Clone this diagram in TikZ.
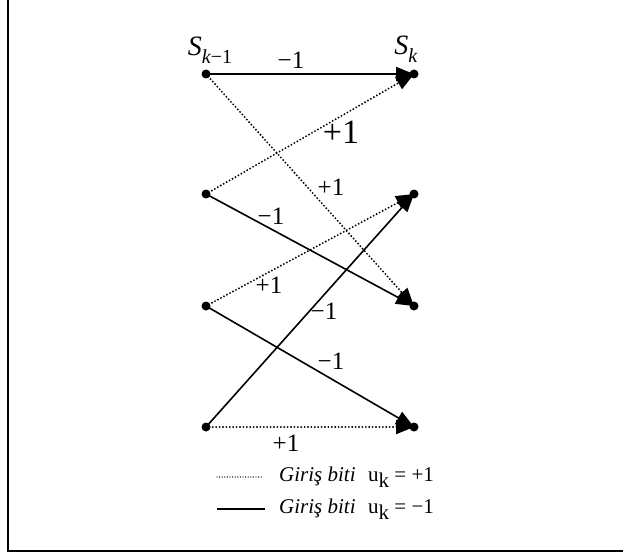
\documentclass[tikz,border=0pt]{standalone}
\usepackage{fontspec}
\setmainfont{Liberation Serif}
\usetikzlibrary{arrows.meta}
\tikzset{
  dot/.style={circle,fill=black,inner sep=0pt,minimum size=9pt},
  solidedge/.style={line width=1.6pt,-{Triangle[length=18pt,width=14pt]}},
  dotedge/.style={line width=2.1pt,line cap=round,dash pattern=on 0pt off 3.4pt,-{Triangle[length=18pt,width=14pt]}},
  lbl/.style={inner sep=0pt,font=\fontsize{25}{28}\selectfont},
  biglbl/.style={inner sep=0pt,font=\fontsize{34}{38}\selectfont},
  legtext/.style={inner sep=0pt,anchor=base west,font=\fontsize{21}{24}\selectfont}
}
\begin{document}
\begin{tikzpicture}[x=1pt,y=-1pt]
\useasboundingbox (0,0) rectangle (623,559);
\draw[line width=2pt] (8,-2) -- (8,551) -- (625,551);
% states
\node[dot] (a1) at (206,74) {};
\node[dot] (a2) at (206,194) {};
\node[dot] (a3) at (206,306) {};
\node[dot] (a4) at (206,427) {};
\node[dot] (b1) at (414,74) {};
\node[dot] (b2) at (414,194) {};
\node[dot] (b3) at (414,306) {};
\node[dot] (b4) at (414,427) {};
% edges
\draw[solidedge] (a1.center) -- (b1.center);
\draw[dotedge] (a1.center) -- (b3.center);
\draw[dotedge] (a2.center) -- (b1.center);
\draw[solidedge] (a2.center) -- (b3.center);
\draw[dotedge] (a3.center) -- (b2.center);
\draw[solidedge] (a3.center) -- (b4.center);
\draw[solidedge] (a4.center) -- (b2.center);
\draw[dotedge] (a4.center) -- (b4.center);
% headings
\node[inner sep=0pt,font=\fontsize{28}{30}\selectfont] (sk1) at (210,50) {\textit{S}\raisebox{-0.3em}{\fontsize{20}{22}\selectfont\textit{k}−1}};
\node[inner sep=0pt,font=\fontsize{28}{30}\selectfont] (sk) at (406,49) {\textit{S}\raisebox{-0.3em}{\fontsize{20}{22}\selectfont\textit{k}}};
% labels
\node[lbl] (l1) at (291,60) {−1};
\node[biglbl] (l2) at (341,132) {+1};
\node[lbl] (l3) at (331,187) {+1};
\node[lbl] (l4) at (271,216) {−1};
\node[lbl] (l5) at (269,285) {+1};
\node[lbl] (l6) at (324,311) {−1};
\node[lbl] (l7) at (331,361) {−1};
\node[lbl] (l8) at (286,443) {+1};
% legend
\coordinate (d1) at (217,477);
\coordinate (d2) at (262,477);
\coordinate (s1) at (217,509);
\coordinate (s2) at (265,509);
\draw[line width=1.4pt,line cap=round,dash pattern=on 0pt off 2.6pt] (d1) -- (d2);
\draw[line width=1.6pt] (s1) -- (s2);
\node[legtext] (t1) at (279,481) {\textit{Giriş biti}\hspace{0.6em}u\raisebox{-0.3em}{k} = +1};
\node[legtext] (t2) at (279,513) {\textit{Giriş biti}\hspace{0.6em}u\raisebox{-0.3em}{k} = −1};
\end{tikzpicture}
\end{document}
